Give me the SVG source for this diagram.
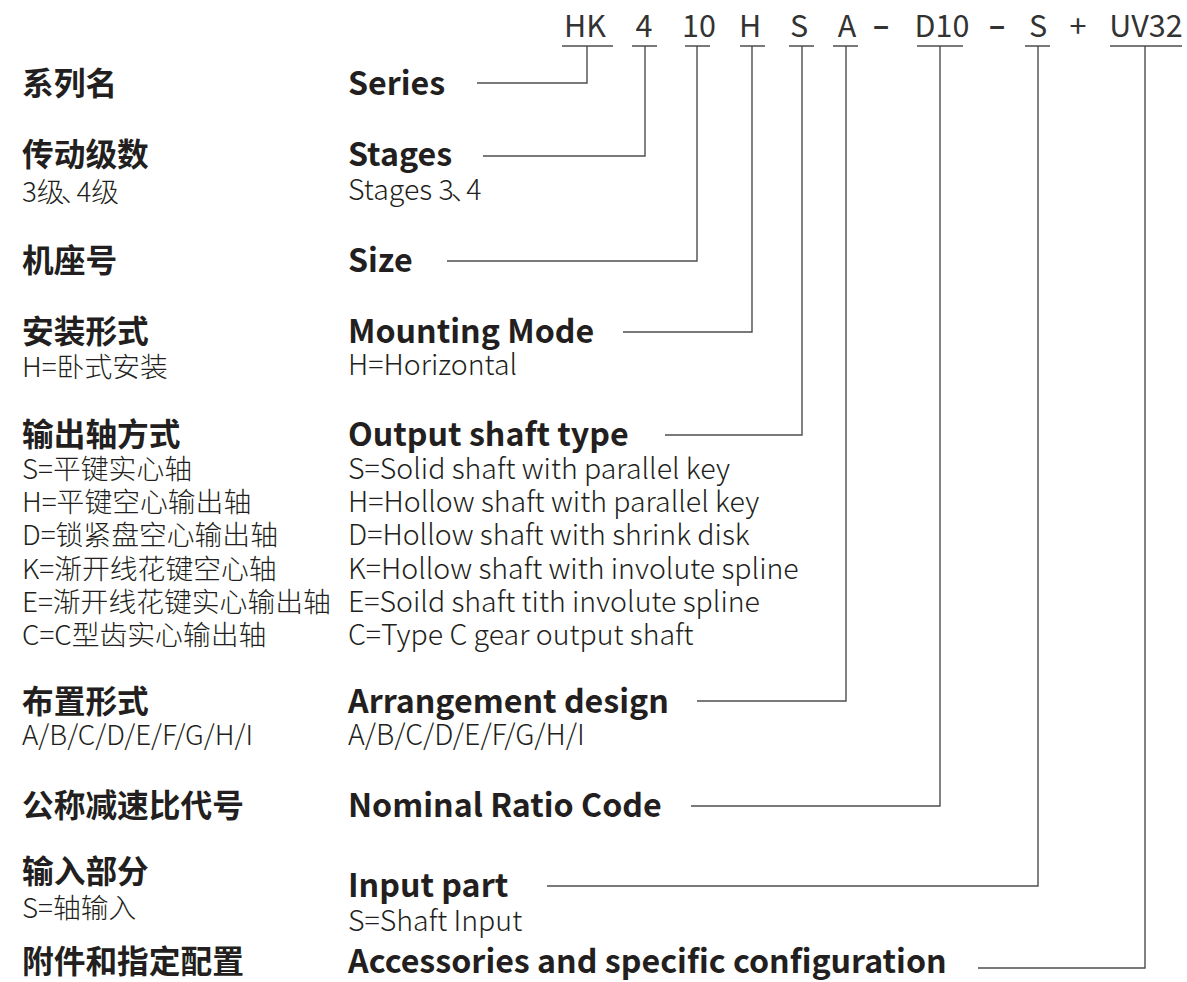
<svg xmlns="http://www.w3.org/2000/svg" width="1187" height="982" viewBox="0 0 1187 982">
<style>
text{font-family:"Noto Sans CJK SC","Noto Sans",sans-serif;fill:#231f20}
.code{font-size:30.5px;text-anchor:middle;fill:#333}
.dash{font-weight:700}
.zh{font-size:31.7px;font-weight:700}
.zs{font-size:27.8px;font-weight:300}
.en{font-size:32.2px;font-weight:700}
.es{font-size:28.5px;font-weight:300}
.ln{fill:none;stroke:#4d4d4d;stroke-width:1.4}
</style>
<rect width="1187" height="982" fill="#fff"/>
<g id="code">
<text class="code" x="585" y="37">HK</text>
<text class="code" x="644" y="37">4</text>
<text class="code" x="699" y="37">10</text>
<text class="code" x="750" y="37">H</text>
<text class="code" x="799" y="37">S</text>
<text class="code" x="847" y="37">A</text>
<text class="code dash" x="881" y="36">–</text>
<text class="code" x="942" y="37">D10</text>
<text class="code dash" x="997" y="36">–</text>
<text class="code" x="1038" y="37">S</text>
<text class="code" x="1078" y="37">+</text>
<text class="code" x="1146" y="37">UV32</text>
</g>
<g id="connectors" class="ln">
<path d="M562 46H613M587 46V83H477"/>
<path d="M632 46H657M645 46V156H483"/>
<path d="M685 46H710M697 46V261H447"/>
<path d="M740 46H765M752 46V332H623"/>
<path d="M789 46H814M802 46V435H665"/>
<path d="M833 46H858M846 46V701H697"/>
<path d="M917 46H963M940 46V806H691"/>
<path d="M1025 46H1050M1038 46V886H547"/>
<path d="M1110 46H1182M1145 46V968H978"/>
</g>
<g id="series"><text class="zh" x="22" y="95">系列名</text><text class="en" x="348" y="95">Series</text></g>
<g id="stages"><text class="zh" x="22" y="166">传动级数</text><text class="zs" x="22" y="202">3级<tspan dx="-4">、</tspan><tspan dx="-12">4级</tspan></text><text class="en" x="348" y="166">Stages</text><text class="es" x="348" y="200">Stages 3<tspan dx="-3">、</tspan><tspan dx="-13">4</tspan></text></g>
<g id="size"><text class="zh" x="22" y="272">机座号</text><text class="en" x="348" y="272">Size</text></g>
<g id="mounting"><text class="zh" x="22" y="343">安装形式</text><text class="zs" x="22" y="377">H=卧式安装</text><text class="en" x="348" y="343">Mounting Mode</text><text class="es" x="348" y="375">H=Horizontal</text></g>
<g id="output">
<text class="zh" x="22" y="446">输出轴方式</text>
<text class="zs" x="22" y="479">S=平键实心轴</text>
<text class="zs" x="22" y="512">H=平键空心输出轴</text>
<text class="zs" x="22" y="545">D=锁紧盘空心输出轴</text>
<text class="zs" x="22" y="579">K=渐开线花键空心轴</text>
<text class="zs" x="22" y="612">E=渐开线花键实心输出轴</text>
<text class="zs" x="22" y="645">C=C型齿实心输出轴</text>
<text class="en" x="348" y="446">Output shaft type</text>
<text class="es" x="348" y="479">S=Solid shaft with parallel key</text>
<text class="es" x="348" y="512">H=Hollow shaft with parallel key</text>
<text class="es" x="348" y="545">D=Hollow shaft with shrink disk</text>
<text class="es" x="348" y="579">K=Hollow shaft with involute spline</text>
<text class="es" x="348" y="612">E=Soild shaft tith involute spline</text>
<text class="es" x="348" y="645">C=Type C gear output shaft</text>
</g>
<g id="arrangement"><text class="zh" x="22" y="713">布置形式</text><text class="zs" x="22" y="745">A/B/C/D/E/F/G/H/I</text><text class="en" x="348" y="713">Arrangement design</text><text class="es" x="348" y="745">A/B/C/D/E/F/G/H/I</text></g>
<g id="ratio"><text class="zh" x="22" y="817">公称减速比代号</text><text class="en" x="348" y="817">Nominal Ratio Code</text></g>
<g id="input"><text class="zh" x="22" y="883">输入部分</text><text class="zs" x="22" y="918">S=轴输入</text><text class="en" x="348" y="897">Input part</text><text class="es" x="348" y="931">S=Shaft Input</text></g>
<g id="accessories"><text class="zh" x="22" y="973">附件和指定配置</text><text class="en" x="348" y="973">Accessories and specific configuration</text></g>
</svg>
